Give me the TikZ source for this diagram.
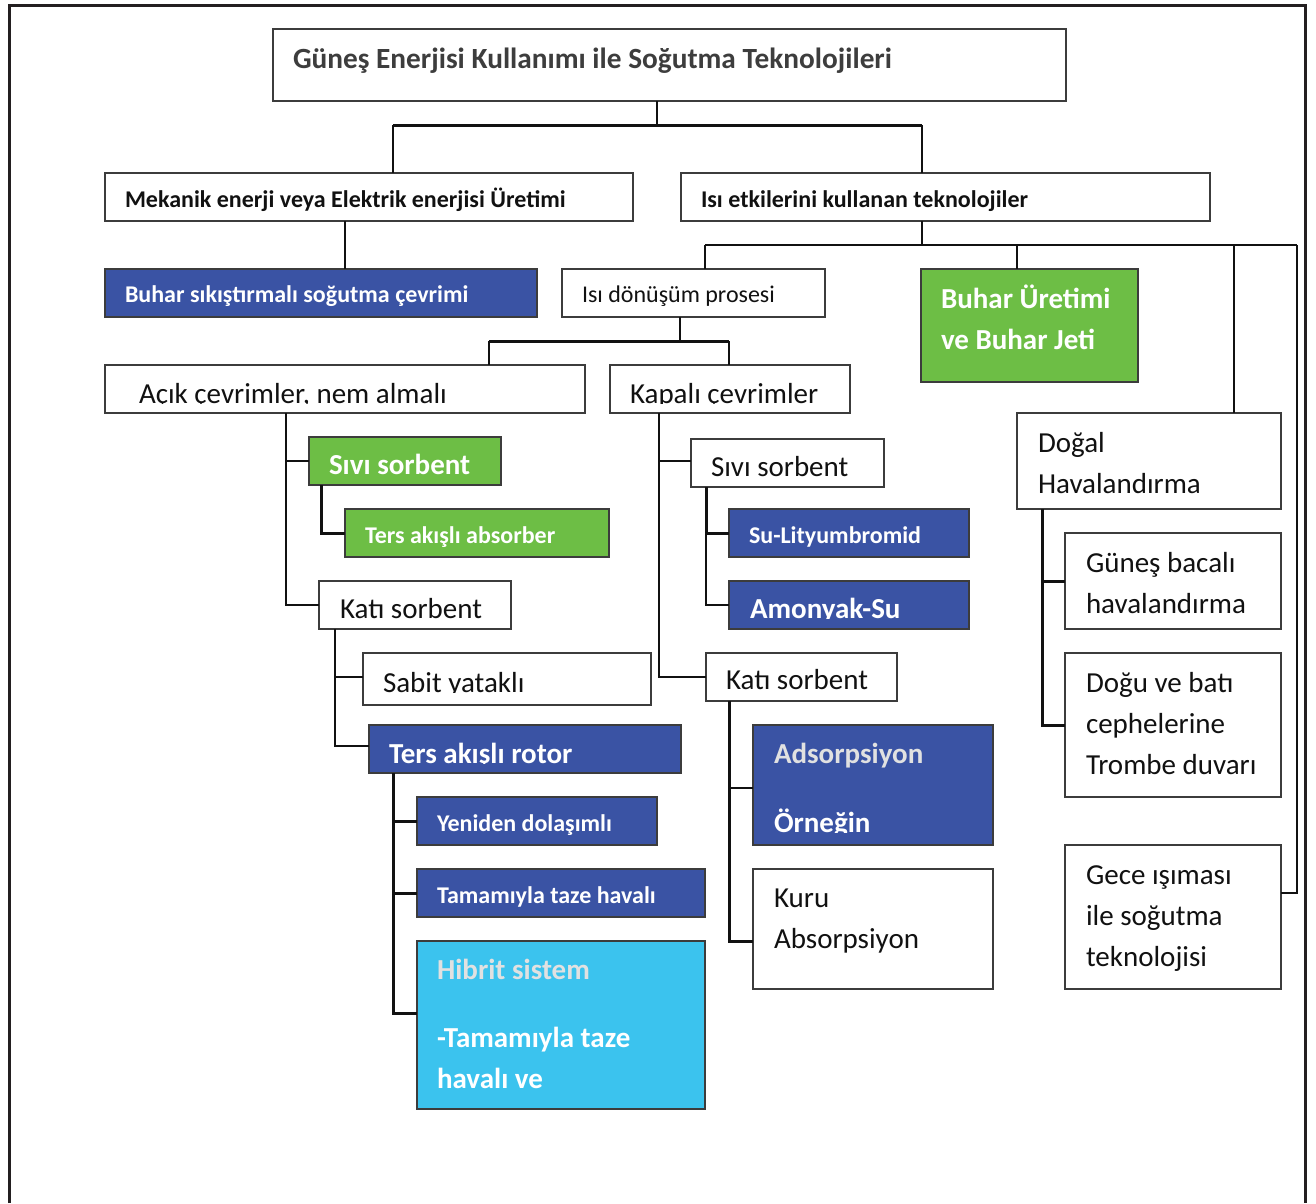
\documentclass[tikz,border=0pt]{standalone}
\usepackage{fontspec}
\setmainfont{Carlito}
\definecolor{ink}{HTML}{111111}
\definecolor{head}{HTML}{3D3D3D}
\definecolor{edge}{HTML}{3C3C3C}
\definecolor{frameink}{HTML}{231F20}
\definecolor{navy}{HTML}{3A53A4}
\definecolor{leaf}{HTML}{6DBE45}
\definecolor{sky}{HTML}{3BC3EE}
\definecolor{mist}{HTML}{E1E1E1}

\tikzset{
  cell/.style={draw=edge,line width=2pt,inner sep=0pt,outer sep=0pt,anchor=north west},
  plaintxt/.style={anchor=base west,inner sep=0pt,outer sep=0pt,text=ink,font=\fontsize{29}{41}\selectfont},
  boldtxt/.style={plaintxt,text=white,font=\bfseries\fontsize{29}{41}\selectfont},
  smalltxt/.style={plaintxt,font=\fontsize{24}{30}\selectfont},
  smallbold/.style={plaintxt,text=white,font=\bfseries\fontsize{24}{30}\selectfont},
  link/.style={draw=ink,line width=1.8pt},
  bar/.style={draw=ink,line width=3pt}
}

\begin{document}
\begin{tikzpicture}[x=1pt,y=-1pt]

  \useasboundingbox (0,0) rectangle (1316,1203);
  \fill[white] (0,0) rectangle (1316,1203);

  % Outer frame, open at the bottom edge
  \draw[frameink,line width=3pt] (9,1203) -- (9,5) -- (1305,5) -- (1305,1203);

  % ---------------------------------------------------------------- TITLE
  \node[cell,minimum width=793pt,minimum height=72pt] (title) at (273,29) {};
  \node[plaintxt,text=head,font=\bfseries\fontsize{29.3}{35}\selectfont] (title-t) at (293,68)
    {Güneş Enerjisi Kullanımı ile Soğutma Teknolojileri};

  % ---------------------------------------------------------------- SECOND ROW
  \node[cell,minimum width=528pt,minimum height=48pt] (mek) at (105,173) {};
  \node[plaintxt,font=\bfseries\fontsize{24}{30}\selectfont] (mek-t) at (125,207)
    {Mekanik enerji veya Elektrik enerjisi Üretimi};
  \node[cell,minimum width=529pt,minimum height=48pt] (isi) at (681,173) {};
  \node[plaintxt,font=\bfseries\fontsize{24}{30}\selectfont] (isi-t) at (701,207)
    {Isı etkilerini kullanan teknolojiler};

  % ---------------------------------------------------------------- THIRD ROW
  \node[cell,fill=navy,minimum width=432pt,minimum height=48pt] (bsc) at (105,269) {};
  \node[smallbold] (bsc-t) at (125,302) {Buhar sıkıştırmalı soğutma çevrimi};
  \node[cell,minimum width=263pt,minimum height=48pt] (donusum) at (562,269) {};
  \node[smalltxt] (donusum-t) at (582,302) {Isı dönüşüm prosesi};
  \node[cell,fill=leaf,minimum width=217pt,minimum height=113pt] (buhar) at (921,269) {};
  \node[boldtxt] (buhar-t1) at (941,308) {Buhar Üretimi};
  \node[boldtxt] (buhar-t2) at (941,349) {ve Buhar Jeti};

  % ---------------------------------------------------------------- OPEN CYCLES
  \node[cell,minimum width=480pt,minimum height=48pt] (acik) at (105,365) {};
  \begin{scope}
    \clip (acik.north west) rectangle (585,403.5);
    \node[plaintxt] (acik-t) at (139,403) {Açık çevrimler, nem almalı};
  \end{scope}
  \node[cell,fill=leaf,minimum width=192pt,minimum height=48pt] (sivi1) at (309,437) {};
  \begin{scope}
    \clip (sivi1.north west) rectangle (501,474.5);
    \node[boldtxt] (sivi1-t) at (329,474) {Sıvı sorbent};
  \end{scope}
  \node[cell,fill=leaf,minimum width=264pt,minimum height=48pt] (tab) at (345,509) {};
  \node[smallbold] (tab-t) at (365,543) {Ters akışlı absorber};
  \node[cell,minimum width=192pt,minimum height=48pt] (kati1) at (319,581) {};
  \begin{scope}
    \clip (kati1.north west) rectangle (511,618.5);
    \node[plaintxt] (kati1-t) at (340,618) {Katı sorbent};
  \end{scope}
  \node[cell,minimum width=288pt,minimum height=52pt] (sabit) at (363,653) {};
  \begin{scope}
    \clip (sabit.north west) rectangle (651,692.5);
    \node[plaintxt] (sabit-t) at (383,692) {Sabit yataklı};
  \end{scope}
  \node[cell,fill=navy,minimum width=312pt,minimum height=48pt] (rotor) at (369,725) {};
  \begin{scope}
    \clip (rotor.north west) rectangle (681,763.5);
    \node[boldtxt] (rotor-t) at (389,763) {Ters akışlı rotor};
  \end{scope}
  \node[cell,fill=navy,minimum width=240pt,minimum height=48pt] (yeniden) at (417,797) {};
  \node[smallbold] (yeniden-t) at (437,831) {Yeniden dolaşımlı};
  \node[cell,fill=navy,minimum width=288pt,minimum height=48pt] (tamam) at (417,869) {};
  \node[smallbold] (tamam-t) at (437,903) {Tamamıyla taze havalı};
  \node[cell,fill=sky,minimum width=288pt,minimum height=168pt] (hibrit) at (417,941) {};
  \node[boldtxt,text=mist] (hibrit-t1) at (437,979) {Hibrit sistem};
  \node[boldtxt] (hibrit-t2) at (437,1047) {-Tamamıyla taze};
  \node[boldtxt] (hibrit-t3) at (437,1088) {havalı ve};

  % ---------------------------------------------------------------- CLOSED CYCLES
  \node[cell,minimum width=240pt,minimum height=48pt] (kapali) at (610,365) {};
  \begin{scope}
    \clip (kapali.north west) rectangle (850,403.5);
    \node[plaintxt] (kapali-t) at (630,403) {Kapalı çevrimler};
  \end{scope}
  \node[cell,minimum width=193pt,minimum height=48pt] (sivi2) at (691,439) {};
  \begin{scope}
    \clip (sivi2.north west) rectangle (884,476.5);
    \node[plaintxt] (sivi2-t) at (711,476) {Sıvı sorbent};
  \end{scope}
  \node[cell,fill=navy,minimum width=240pt,minimum height=48pt] (sulib) at (729,509) {};
  \node[smallbold] (sulib-t) at (749,543) {Su-Lityumbromid};
  \node[cell,fill=navy,minimum width=240pt,minimum height=48pt] (amonyak) at (729,581) {};
  \begin{scope}
    \clip (amonyak.north west) rectangle (969,618.5);
    \node[boldtxt] (amonyak-t) at (750,618) {Amonyak-Su};
  \end{scope}
  \node[cell,minimum width=191pt,minimum height=48pt] (kati2) at (706,653) {};
  \begin{scope}
    \clip (kati2.north west) rectangle (897,689.5);
    \node[plaintxt] (kati2-t) at (726,689) {Katı sorbent};
  \end{scope}
  \node[cell,fill=navy,minimum width=240pt,minimum height=120pt] (adsorp) at (753,725) {};
  \node[boldtxt,text=mist] (adsorp-t1) at (774,763) {Adsorpsiyon};
  \begin{scope}
    \clip (adsorp.north west) rectangle (993,832.5);
    \node[boldtxt] (adsorp-t2) at (774,832) {Örneğin};
  \end{scope}
  \node[cell,minimum width=240pt,minimum height=120pt] (kuru) at (753,869) {};
  \foreach \t [count=\i from 0] in {Kuru, Absorpsiyon}
    \node[plaintxt] (kuru-t\i) at (774,907+41*\i) {\t};

  % ---------------------------------------------------------------- NATURAL VENTILATION
  \node[cell,minimum width=264pt,minimum height=96pt] (dogal) at (1017,413) {};
  \foreach \t [count=\i from 0] in {Doğal, Havalandırma}
    \node[plaintxt] (dogal-t\i) at (1038,452+41*\i) {\t};
  \node[cell,minimum width=216pt,minimum height=96pt] (gunes) at (1065,533) {};
  \foreach \t [count=\i from 0] in {Güneş bacalı, havalandırma}
    \node[plaintxt] (gunes-t\i) at (1086,572+41*\i) {\t};
  \node[cell,minimum width=216pt,minimum height=144pt] (dogu) at (1065,653) {};
  \foreach \t [count=\i from 0] in {Doğu ve batı, cephelerine, Trombe duvarı}
    \node[plaintxt] (dogu-t\i) at (1086,692+41*\i) {\t};
  \node[cell,minimum width=216pt,minimum height=144pt] (gece) at (1065,845) {};
  \foreach \t [count=\i from 0] in {Gece ışıması, ile soğutma, teknolojisi}
    \node[plaintxt] (gece-t\i) at (1086,884+41*\i) {\t};

  % ---------------------------------------------------------------- CONNECTORS
  % title split
  \coordinate (title-out) at (657,101);
  \coordinate (hub-top) at (657,125);
  \coordinate (mek-in) at (393,173);
  \coordinate (isi-in) at (922,173);
  \draw[link] (title-out) -- (hub-top);
  \draw[bar] (mek-in |- hub-top) -- (isi-in |- hub-top);
  \draw[link] (mek-in |- hub-top) -- (mek-in);
  \draw[link] (isi-in |- hub-top) -- (isi-in);

  % mechanical branch
  \coordinate (mek-out) at (345,221);
  \draw[link] (mek-out) -- (mek-out |- bsc.north);

  % heat branch
  \coordinate (isi-out) at (922,221);
  \coordinate (hub-isi) at (922,245);
  \coordinate (donusum-in) at (705,269);
  \coordinate (buhar-in) at (1017,269);
  \coordinate (dogal-in) at (1234,413);
  \coordinate (gece-in) at (1297,245);
  \draw[link] (isi-out) -- (hub-isi);
  \draw[link] (donusum-in |- hub-isi) -- (gece-in);
  \draw[link] (donusum-in |- hub-isi) -- (donusum-in);
  \draw[link] (buhar-in |- hub-isi) -- (buhar-in);
  \draw[link] (dogal-in |- hub-isi) -- (dogal-in);
  \draw[link] (gece-in) |- ([yshift=24pt]gece.east);

  % conversion split
  \coordinate (donusum-out) at (680,317);
  \coordinate (hub-mid) at (680,341);
  \coordinate (acik-in) at (489,365);
  \coordinate (kapali-in) at (729,365);
  \draw[link] (donusum-out) -- (hub-mid);
  \draw[bar] (acik-in |- hub-mid) -- (kapali-in |- hub-mid);
  \draw[link] (acik-in |- hub-mid) -- (acik-in);
  \draw[link] (kapali-in |- hub-mid) -- (kapali-in);

  % open cycles tree
  \coordinate (acik-out) at (286,413);
  \draw[link] (acik-out) |- (sivi1.west);
  \draw[link] (acik-out) |- (kati1.west);
  \coordinate (sivi1-out) at (321,485);
  \draw[bar] (sivi1-out) |- (tab.west);
  \coordinate (kati1-out) at (335,629);
  \draw[link] (kati1-out) |- ([yshift=2pt]sabit.west);
  \draw[link] (kati1-out) |- ([yshift=3pt]rotor.west);
  \coordinate (rotor-out) at (393,773);
  \draw[bar] (rotor-out) |- (yeniden.west);
  \draw[bar] (rotor-out) |- (tamam.west);
  \draw[bar] (rotor-out) |- ([yshift=12pt]hibrit.west);

  % closed cycles tree
  \coordinate (kapali-out) at (659,413);
  \draw[link] (kapali-out) |- ([yshift=2pt]sivi2.west);
  \draw[link] (kapali-out) |- (kati2.west);
  \coordinate (sivi2-out) at (706,487);
  \draw[bar] (sivi2-out) |- (sulib.west);
  \draw[link] (sivi2-out) |- (amonyak.west);
  \coordinate (kati2-out) at (729,701);
  \draw[link] (kati2-out) |- ([yshift=-3pt]adsorp.west);
  \draw[bar] (kati2-out) |- ([yshift=-12pt]kuru.west);

  % ventilation tree
  \coordinate (dogal-out) at (1042,509);
  \draw[bar] (dogal-out) |- (gunes.west);
  \draw[bar] (dogal-out) |- (dogu.west);

\end{tikzpicture}
\end{document}
